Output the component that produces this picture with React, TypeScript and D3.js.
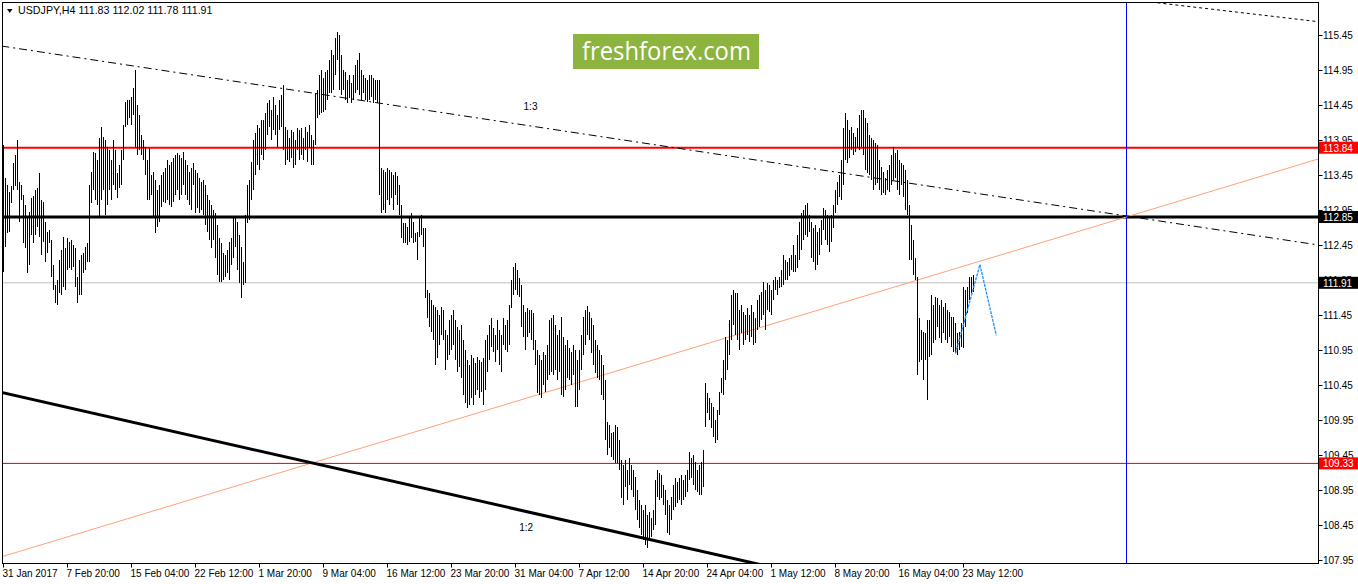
import React from "react";
import * as d3 from "d3";

// ---------- DATA ----------
const symbolName = "USDJPY,H4";
const lastBarOHLC = [111.83, 112.02, 111.78, 111.91];

const highs = [
  113.88,113.41,113.31,113.21,113.29,113.62,113.74,113.95,113.35,113.31,
  113.16,113.02,112.84,112.92,113.12,113.15,113.24,113.26,113.48,113.09,
  113.06,112.78,112.64,112.66,112.52,112.16,111.88,111.95,112.24,112.38,
  112.56,112.41,112.55,112.49,112.52,112.45,112.41,111.99,112.24,112.31,
  112.34,112.42,112.48,113.31,113.49,113.78,113.76,113.66,113.98,114.14,
  113.99,113.95,113.85,113.81,113.66,113.95,113.81,113.48,113.59,113.81,
  114.16,114.49,114.52,114.52,114.56,114.69,114.95,114.45,114.31,114.02,
  113.95,113.85,113.66,113.84,113.45,113.49,113.38,113.24,113.31,113.45,
  113.49,113.55,113.66,113.59,113.64,113.69,113.74,113.76,113.74,113.69,
  113.78,113.66,113.59,113.49,113.55,113.62,113.52,113.48,113.41,113.35,
  113.38,113.31,113.16,113.09,113.02,112.95,112.91,112.74,112.55,112.48,
  112.34,112.31,112.38,112.49,112.55,112.84,112.84,112.78,112.59,112.42,
  112.21,112.88,113.31,113.38,113.64,113.95,114.05,114.16,114.12,114.24,
  114.24,114.34,114.48,114.52,114.38,114.56,114.45,114.31,114.52,114.59,
  114.74,114.14,114.09,113.98,114.09,114.06,113.95,114.12,114.09,114.12,
  113.98,114.14,114.06,114.16,114.02,113.95,114.62,114.66,114.88,114.95,
  114.84,114.92,114.95,115.09,115.24,115.16,115.41,115.49,115.45,115.16,
  114.95,114.92,114.81,114.88,114.76,114.88,115.02,115.09,115.19,114.95,
  114.88,114.84,114.81,114.88,114.88,114.84,114.81,114.81,114.81,113.55,
  113.52,113.49,113.55,113.52,113.49,113.45,113.49,113.44,113.31,113.02,
  112.76,112.76,112.71,112.84,112.91,112.78,112.62,112.64,112.85,112.88,
  112.69,112.69,111.81,111.76,111.66,111.59,111.56,111.52,111.45,111.56,
  111.52,111.24,111.16,111.38,111.45,111.52,111.38,111.28,111.24,111.31,
  111.09,110.95,110.81,110.74,110.88,110.84,110.76,110.85,110.81,110.78,
  110.84,111.09,111.16,111.31,111.41,111.26,111.16,111.38,111.24,111.16,
  111.41,111.31,111.38,111.59,111.95,112.14,112.19,112.09,111.98,111.88,
  111.59,111.49,111.55,111.52,111.52,111.48,111.09,110.95,110.88,110.81,
  110.92,110.88,111.02,111.38,111.41,111.45,111.31,111.16,111.24,111.42,
  111.14,111.02,111.09,110.98,110.92,111.02,110.95,110.81,110.95,111.16,
  111.42,111.52,111.58,111.49,111.41,111.31,111.09,111.02,110.95,110.88,
  110.74,110.52,109.92,109.88,109.76,109.78,109.88,109.85,109.66,109.38,
  109.31,109.38,109.24,109.41,109.31,109.24,109.14,108.95,108.81,108.74,
  108.66,108.74,108.59,108.64,108.55,108.66,109.09,109.24,109.19,109.16,
  109.02,108.95,108.81,108.74,108.85,109.02,109.12,109.06,109.12,109.16,
  109.09,109.16,109.24,109.49,109.41,109.45,109.35,109.24,109.31,109.35,
  109.52,110.48,110.34,110.26,110.19,110.14,109.95,110.09,110.35,110.55,
  110.81,111.14,111.09,111.38,111.74,111.81,111.76,111.76,111.52,111.59,
  111.49,111.45,111.55,111.45,111.59,111.49,111.41,111.66,111.74,111.78,
  111.92,111.81,111.91,111.88,111.81,111.95,111.99,111.95,111.99,112.09,
  112.31,112.24,112.21,112.26,112.31,112.45,112.31,112.59,112.78,112.91,
  112.95,113.02,113.05,112.88,112.78,112.69,112.74,112.64,112.69,112.81,
  112.98,112.95,112.88,112.84,112.88,113.02,113.24,113.35,113.45,113.66,
  114.12,114.34,114.24,114.09,114.14,114.05,113.99,114.12,114.31,114.38,
  114.38,114.26,114.19,114.02,113.98,113.95,113.91,113.88,113.66,113.56,
  113.49,113.41,113.52,113.59,113.74,113.85,113.76,113.81,113.66,113.62,
  113.59,113.52,113.38,113.02,112.74,112.52,112.26,111.99,111.41,111.24,
  111.21,111.19,111.38,111.38,111.74,111.59,111.71,111.69,111.59,111.66,
  111.56,111.62,111.52,111.49,111.42,111.42,111.34,111.19,111.21,111.34,
  111.85,111.81,111.85,111.99,111.99,112.02
];

const lows = [
  112.06,112.42,112.62,112.64,113.05,113.24,113.29,113.24,112.78,113.09,
  112.48,112.41,112.05,112.16,112.59,112.48,112.59,112.71,112.56,112.31,
  112.49,112.21,112.34,112.48,111.99,111.81,111.62,111.59,111.76,111.74,
  111.85,111.81,112.09,112.12,112.09,112.14,111.85,111.62,111.74,111.74,
  112.05,112.09,112.21,112.21,113.05,113.24,113.09,113.02,112.85,113.09,
  113.24,112.88,113.02,113.24,113.09,113.31,113.24,113.12,113.26,113.31,
  113.66,114.14,114.16,114.26,114.16,114.31,113.85,113.74,113.81,113.74,
  113.66,113.45,113.09,113.09,113.16,112.84,112.62,112.71,112.78,112.99,
  113.06,113.05,113.09,113.02,112.99,113.06,113.16,113.24,113.09,113.16,
  113.31,113.16,113.09,113.02,112.95,113.31,112.91,112.98,112.91,112.95,
  112.88,112.74,112.64,112.52,112.41,112.52,112.26,112.02,111.92,111.92,
  111.95,111.99,112.05,111.95,112.16,112.26,112.42,112.09,111.91,111.69,
  111.88,111.91,112.76,112.81,113.09,113.24,113.45,113.59,113.52,113.74,
  113.66,113.81,114.02,114.14,113.95,114.09,114.02,113.85,114.09,114.14,
  113.81,113.59,113.66,113.64,113.69,113.55,113.59,113.81,113.66,113.74,
  113.66,113.81,113.64,113.84,113.59,113.59,113.88,114.26,114.31,114.34,
  114.35,114.38,114.52,114.62,114.62,114.66,114.88,115.09,114.66,114.59,
  114.66,114.52,114.48,114.55,114.48,114.52,114.62,114.66,114.59,114.52,
  114.62,114.52,114.49,114.52,114.56,114.48,114.52,114.48,113.16,112.91,
  112.95,112.91,113.09,113.02,113.12,112.95,113.16,113.02,112.88,112.55,
  112.48,112.48,112.45,112.49,112.55,112.48,112.49,112.24,112.56,112.59,
  112.42,111.69,111.41,111.28,111.21,111.09,110.74,110.84,111.02,111.16,
  111.09,110.66,110.81,110.88,110.95,111.02,110.81,110.64,110.71,110.55,
  110.31,110.19,110.12,110.16,110.26,110.16,110.31,110.38,110.26,110.35,
  110.16,110.38,110.64,110.81,110.99,110.92,110.78,110.95,110.74,110.64,
  111.02,110.95,110.92,111.02,111.55,111.74,111.81,111.74,111.71,111.28,
  111.14,110.95,111.14,111.19,111.09,110.95,110.74,110.34,110.31,110.26,
  110.45,110.35,110.52,110.59,110.64,110.59,110.66,110.52,110.64,110.31,
  110.28,110.38,110.55,110.52,110.45,110.59,110.14,110.14,110.38,110.66,
  110.88,111.02,111.16,111.09,110.91,110.74,110.62,110.55,110.52,110.31,
  110.24,109.66,109.45,109.55,109.42,109.38,109.34,109.34,109.24,108.84,
  108.74,108.99,108.81,109.02,108.95,108.85,108.66,108.52,108.41,108.31,
  108.24,108.16,108.12,108.24,108.28,108.38,108.45,108.85,108.81,108.84,
  108.74,108.59,108.34,108.31,108.52,108.66,108.71,108.76,108.81,108.74,
  108.81,108.85,108.92,109.09,109.12,109.02,108.95,108.92,108.88,108.88,
  108.99,109.85,110.05,109.95,109.84,109.71,109.62,109.66,110.02,110.34,
  110.31,110.52,110.66,110.88,111.09,111.31,111.16,111.09,110.95,111.19,
  111.02,111.09,111.16,111.06,111.14,111.02,111.05,111.24,111.28,111.38,
  111.45,111.24,111.52,111.49,111.45,111.66,111.81,111.74,111.84,111.85,
  111.88,111.95,111.95,112.01,112.09,112.06,112.06,112.12,112.24,112.38,
  112.52,112.59,112.56,112.64,112.26,112.21,112.09,112.16,112.31,112.45,
  112.66,112.52,112.45,112.35,112.49,112.69,112.91,113.02,113.14,113.09,
  113.31,113.66,113.62,113.69,113.81,113.74,113.78,113.84,113.81,113.85,
  113.74,113.52,113.48,113.45,113.38,113.24,113.31,113.34,113.24,113.16,
  113.19,113.16,113.24,113.21,113.31,113.38,113.41,113.24,113.16,113.31,
  113.14,112.95,112.88,112.24,112.24,112.02,111.95,110.59,110.78,110.81,
  110.52,110.81,110.24,110.85,110.88,111.05,111.09,111.28,111.12,111.05,
  111.19,111.09,111.05,111.14,110.99,110.92,110.91,110.88,110.95,110.99,
  110.98,111.28,111.48,111.66,111.76,111.78
];

const timeLabels = [
  "31 Jan 2017", "7 Feb 20:00", "15 Feb 04:00", "22 Feb 12:00", "1 Mar 20:00",
  "9 Mar 04:00", "16 Mar 12:00", "23 Mar 20:00", "31 Mar 04:00", "7 Apr 12:00",
  "14 Apr 20:00", "24 Apr 04:00", "1 May 12:00", "8 May 20:00", "16 May 04:00",
  "23 May 12:00"
];
const timeLabelBars = [0, 32, 64, 96, 128, 160, 192, 224, 256, 288, 320, 352, 384, 416, 448, 480];

const priceTicks = [
  115.45, 114.95, 114.45, 113.95, 113.45, 112.95, 112.45, 111.95,
  111.45, 110.95, 110.45, 109.95, 109.45, 108.95, 108.45, 107.95
];

// horizontal levels: resistance, pivot, bid, support
const levelPrices = [113.84, 112.85, 111.91, 109.33];

// trend lines as [bar index, price] anchors
const salmonTrend = [[-0.5, 108.0], [657.5, 113.68]];
const channelLine = [[-0.5, 110.34], [374.5, 107.91]];
const ratio13Line = [[-0.5, 115.29], [657.5, 112.45]];
const upperDotted = [[574, 115.92], [657.5, 115.64]];
const forecastPath = [[476, 110.9], [488.2, 112.17], [496.4, 111.16]];
const cursorBar = 561.4;
const ratioLabels = [
  { text: "1:3", bar: 263.5, price: 114.43 },
  { text: "1:2", bar: 261.3, price: 108.42 }
];

// ---------- CHART ----------
const W = 1358;
const H = 584;
const plotL = 2.5;
const plotT = 2.5;
const plotR = 1318.5;
const plotB = 563.5;
const FONT = "'Liberation Sans', Arial, sans-serif";

export default function App() {
  const x = d3.scaleLinear().domain([0, 657.5]).range([3.5, 1318.5]);
  const y = d3.scaleLinear().domain([107.95, 115.45]).range([560, 35]);

  const extend = (pts: number[][]) => {
    const [a, b] = pts;
    const slope = (b[1] - a[1]) / (b[0] - a[0]);
    const x0 = -10, x1 = 680;
    return [
      [x0, a[1] + slope * (x0 - a[0])],
      [x1, a[1] + slope * (x1 - a[0])]
    ];
  };
  const lineGen = d3.line<number[]>().x((d) => x(d[0])).y((d) => y(d[1]));

  const levelStyles = [
    { color: "#ff0000", width: 2, box: "#ff0000" },
    { color: "#000000", width: 3, box: "#000000" },
    { color: "#c0c0c0", width: 1, box: "#000000" },
    { color: "#e00000", width: 1, box: "#ff0000" }
  ];

  return (
    <svg
      width={W}
      height={H}
      style={{ position: "absolute", left: 0, top: 0, background: "#fff" }}
      fontFamily={FONT}
    >
      <defs>
        <clipPath id="plot">
          <rect x={plotL + 0.5} y={plotT + 0.5} width={plotR - plotL - 1} height={plotB - plotT - 1} />
        </clipPath>
      </defs>
      <rect x={0} y={0} width={W} height={H} fill="#fff" />

      {/* price tick labels */}
      {priceTicks.map((p) => (
        <g key={p}>
          <line x1={plotR} x2={plotR + 4} y1={Math.round(y(p)) + 0.5} y2={Math.round(y(p)) + 0.5} stroke="#000" />
          <text x={1323} y={y(p) + 4} fontSize={10} fill="#000">
            {p.toFixed(2)}
          </text>
        </g>
      ))}

      {/* time tick labels */}
      {timeLabelBars.map((b, k) => (
        <g key={b}>
          <line x1={x(b)} x2={x(b)} y1={plotB} y2={plotB + 4} stroke="#000" />
          <text x={x(b) - 1} y={577} fontSize={10} fill="#000">
            {timeLabels[k]}
          </text>
        </g>
      ))}

      <g clipPath="url(#plot)">
        {/* horizontal levels */}
        {levelPrices.map((p, k) => (
          <line
            key={p}
            x1={plotL}
            x2={plotR}
            y1={y(p)}
            y2={y(p)}
            stroke={levelStyles[k].color}
            strokeWidth={levelStyles[k].width}
          />
        ))}

        {/* vertical cursor */}
        <line x1={Math.round(x(cursorBar)) + 0.5} x2={Math.round(x(cursorBar)) + 0.5} y1={plotT} y2={plotB} stroke="#0000ff" />

        {/* trend lines */}
        <path d={lineGen(extend(salmonTrend)) || ""} stroke="#ffa07a" strokeWidth={1} fill="none" />
        <path d={lineGen(extend(channelLine)) || ""} stroke="#000" strokeWidth={3} fill="none" />
        <path d={lineGen(extend(ratio13Line)) || ""} stroke="#000" strokeWidth={1} strokeDasharray="8,4,2,4" fill="none" />
        <path d={lineGen(extend(upperDotted)) || ""} stroke="#000" strokeWidth={1} strokeDasharray="3,3" fill="none" />

        {/* bars */}
        {highs.map((h, i) => {
          const yh = y(h);
          const yl = Math.max(y(lows[i]), yh + 1);
          return (
            <line
              key={i}
              x1={x(i)}
              x2={x(i)}
              y1={yh}
              y2={yl}
              stroke="#000"
              strokeWidth={1}
              shapeRendering="crispEdges"
            />
          );
        })}

        {/* forecast */}
        <path d={lineGen(forecastPath) || ""} stroke="#1e90ff" strokeWidth={1.3} strokeDasharray="3,1" fill="none" />

        {ratioLabels.map((l) => (
          <text key={l.text} x={x(l.bar)} y={y(l.price) + 4} fontSize={10} textAnchor="middle" fill="#000">
            {l.text}
          </text>
        ))}
      </g>

      {/* frame */}
      <rect x={plotL} y={plotT} width={plotR - plotL} height={plotB - plotT} fill="none" stroke="#000" strokeWidth={1} />

      {/* level boxes on price axis */}
      {levelPrices.map((p, k) => (
        <g key={"box" + p}>
          <rect x={1319} y={y(p) - 6} width={39} height={12} fill={levelStyles[k].box} />
          <text x={1323} y={y(p) + 4} fontSize={10} fill="#fff">
            {p.toFixed(2)}
          </text>
        </g>
      ))}

      {/* logo */}
      <rect x={573} y={34} width={186} height={35} fill="#8cb43e" />
      <text x={582} y={60} fontSize={25} fontFamily="'Open Sans', sans-serif" fill="#fff" textLength={169} lengthAdjust="spacingAndGlyphs">
        freshforex.com
      </text>

      {/* header */}
      <path d="M7,9 L12.5,9 L9.75,13 Z" fill="#000" />
      <text x={18} y={14} fontSize={10.7} fill="#000">
        {symbolName + "  " + lastBarOHLC.map((v) => v.toFixed(2)).join(" ")}
      </text>
    </svg>
  );
}
